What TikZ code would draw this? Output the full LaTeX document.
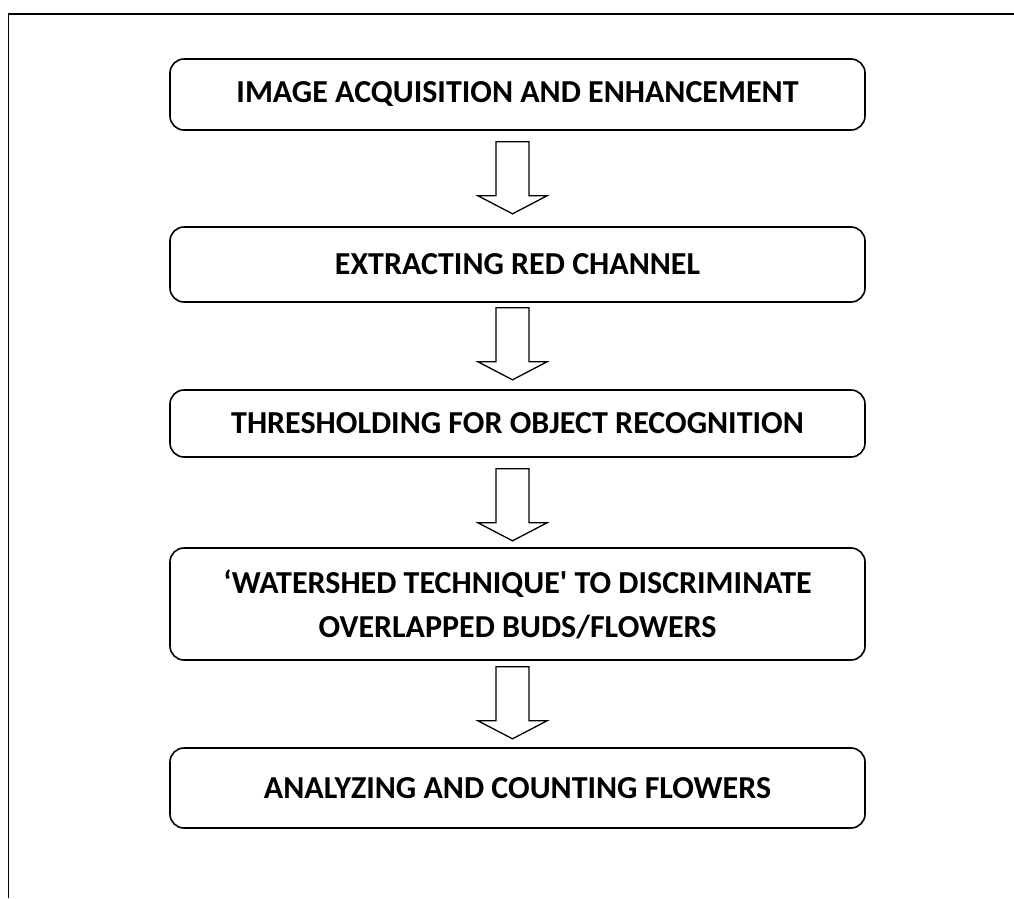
\documentclass[tikz,border=0pt]{standalone}
\usepackage{fontspec}
\setmainfont{Carlito}
\newfontfamily\boxfont{Carlito}
\usetikzlibrary{calc}
\tikzset{
  stepbox/.style={draw, line width=1.6pt, rounded corners=14pt, minimum width=695pt, inner sep=0pt, align=center,
    font=\boxfont\fontsize{32}{44}\selectfont\bfseries},
  blockarrow/.pic={\draw[line width=1.3pt, line join=miter] (-16.5,0) -- (16.5,0) -- (16.5,54) -- (34.5,54) -- (0,72) -- (-34.5,54) -- (-16.5,54) -- cycle;}
}
\begin{document}
\begin{tikzpicture}[x=1pt,y=-1pt]
\useasboundingbox (0,0) rectangle (1014,898);
\draw[line width=1.5pt] (8.5,898) -- (8.5,14) -- (1014,14);
\node[stepbox, minimum height=71pt] (b1) at (517.5,94.5) {IMAGE ACQUISITION AND ENHANCEMENT};
\node[stepbox, minimum height=75pt] (b2) at (517.5,264.5) {EXTRACTING RED CHANNEL};
\node[stepbox, minimum height=67pt] (b3) at (517.5,423.5) {THRESHOLDING FOR OBJECT RECOGNITION};
\node[stepbox, minimum height=112pt] (b4) at (517.5,604) {‘WATERSHED TECHNIQUE' TO DISCRIMINATE\\OVERLAPPED BUDS/FLOWERS};
\node[stepbox, minimum height=80pt] (b5) at (517.5,788) {ANALYZING AND COUNTING FLOWERS};
\pic at ($(b1.south)+(-5,11)$) {blockarrow};
\pic at ($(b2.south)+(-5,5)$) {blockarrow};
\pic at ($(b3.south)+(-5,11)$) {blockarrow};
\pic at ($(b4.south)+(-5,6)$) {blockarrow};
\end{tikzpicture}
\end{document}
